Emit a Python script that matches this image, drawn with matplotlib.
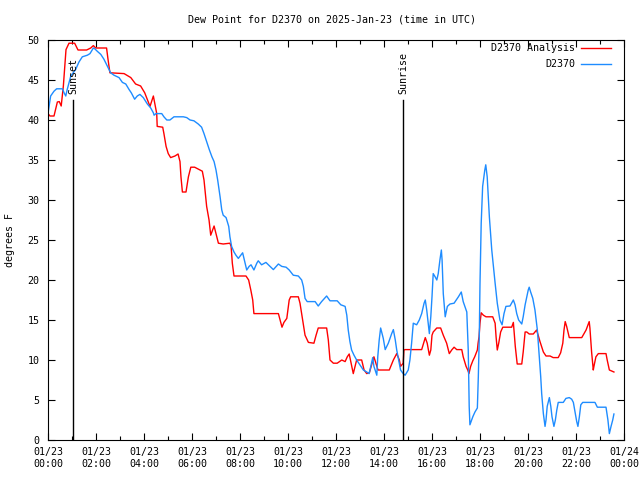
import numpy as np
import matplotlib
matplotlib.use("Agg")
from matplotlib import pyplot as plt
from matplotlib.ticker import MultipleLocator

# hours since 2025-01-23 00:00 UTC, dew point in F
analysis_t = [0.0, 0.08, 0.25, 0.39, 0.47, 0.55, 0.64, 0.75, 0.875, 1.11, 1.25, 1.61, 1.78, 1.89, 1.99,
              2.44, 2.5, 2.58, 3.17, 3.45, 3.65, 3.86, 4.03, 4.25, 4.39, 4.53, 4.55, 4.78, 4.83, 4.92,
              5.01, 5.11, 5.29, 5.42, 5.5, 5.54, 5.6, 5.75, 5.85, 5.95, 6.11, 6.33, 6.43, 6.5, 6.61,
              6.71, 6.78, 6.83, 6.92, 7.0, 7.1, 7.3, 7.58, 7.63, 7.68, 7.75, 8.25, 8.36, 8.45, 8.53,
              8.58, 9.6, 9.67, 9.75, 9.83, 9.95, 10.05, 10.11, 10.43, 10.5, 10.61, 10.71, 10.85, 11.08,
              11.17, 11.26, 11.61, 11.68, 11.75, 11.89, 12.05, 12.24, 12.38, 12.47, 12.55, 12.63, 12.72,
              12.86, 13.07, 13.17, 13.28, 13.39, 13.58, 13.75, 14.22, 14.39, 14.53, 14.64, 14.69, 14.8,
              14.83, 14.88, 15.57, 15.67, 15.72, 15.8, 15.89, 15.95, 16.0, 16.05, 16.2, 16.36, 16.47,
              16.61, 16.72, 16.82, 16.92, 17.03, 17.24, 17.3, 17.42, 17.49, 17.54, 17.61, 17.7, 17.78,
              17.89, 17.92, 17.96, 18.0, 18.05, 18.14, 18.25, 18.53, 18.63, 18.67, 18.72, 18.78, 18.86,
              18.95, 19.32, 19.39, 19.47, 19.55, 19.74, 19.8, 19.88, 19.95, 20.05, 20.22, 20.36, 20.5,
              20.64, 20.75, 20.92, 21.05, 21.26, 21.36, 21.45, 21.5, 21.55, 21.61, 21.72, 22.24, 22.42,
              22.55, 22.58, 22.65, 22.72, 22.75, 22.83, 22.93, 23.25, 23.3, 23.39, 23.58]
analysis_v = [40.8, 40.5, 40.5, 42.25, 42.3, 41.75, 44.25, 48.8, 49.6, 49.6, 48.75, 48.75, 49.0, 49.3, 49.0,
              49.0, 47.6, 45.9, 45.8, 45.3, 44.5, 44.25, 43.4, 41.7, 43.0, 40.8, 39.2, 39.1, 38.3, 36.7,
              35.8, 35.3, 35.5, 35.75, 34.8, 32.9, 31.0, 31.0, 32.9, 34.1, 34.1, 33.75, 33.6, 32.5, 29.2,
              27.5, 25.6, 26.0, 26.75, 25.8, 24.6, 24.5, 24.6, 24.2, 22.1, 20.5, 20.5, 20.0, 18.75, 17.5,
              15.8, 15.8, 15.0, 14.1, 14.7, 15.2, 17.5, 17.9, 17.9, 17.1, 15.0, 13.1, 12.2, 12.1,
              13.1, 14.0, 14.0, 12.5, 10.0, 9.6, 9.6, 10.0, 9.8, 10.4, 10.75, 9.6, 8.3,
              10.0, 10.0, 8.75, 8.3, 8.4, 10.4, 8.75, 8.75, 10.0, 10.8, 10.0, 9.2, 9.6,
              11.25, 11.3, 11.3, 12.3, 12.8, 12.1, 10.6, 11.25, 13.1, 13.5, 14.0, 14.0, 13.1,
              12.1, 10.8, 11.25, 11.6, 11.3, 11.3, 10.4, 9.2, 8.75, 8.3, 9.2, 9.9, 10.4,
              11.25, 12.1, 12.9, 14.6, 15.9, 15.6, 15.4, 15.4, 14.6, 12.9, 11.25, 12.1, 13.5,
              14.1, 14.1, 14.7, 11.7, 9.5, 9.5, 11.0, 13.5, 13.5, 13.25, 13.25, 13.75, 12.3,
              11.0, 10.5, 10.5, 10.3, 10.3, 10.9, 12.1, 13.75, 14.8, 14.2, 12.8, 12.8, 13.75,
              14.8, 14.0, 11.0, 8.75, 9.25, 10.4, 10.8, 10.8, 10.0, 8.75, 8.5]

station_t = [0.0, 0.11, 0.25, 0.36, 0.6, 0.67, 0.74, 0.8, 0.95, 1.15, 1.29, 1.43, 1.64, 1.75, 1.89, 1.95,
             2.05, 2.2, 2.33, 2.47, 2.61, 2.75, 2.96, 3.1, 3.24, 3.38, 3.47, 3.61, 3.72, 3.83, 3.97,
             4.14, 4.28, 4.39, 4.42, 4.5, 4.74, 4.83, 4.95, 5.08, 5.25, 5.64, 5.78, 5.92, 6.08, 6.26,
             6.4, 6.5, 6.61, 6.72, 6.83, 6.92, 7.0, 7.07, 7.17, 7.24, 7.3, 7.42, 7.47, 7.53, 7.58,
             7.65, 7.75, 7.83, 7.93, 8.03, 8.11, 8.18, 8.28, 8.38, 8.46, 8.58, 8.7, 8.76, 8.9, 9.08,
             9.25, 9.39, 9.6, 9.74, 9.92, 10.05, 10.22, 10.43, 10.57, 10.64, 10.71, 10.8, 11.13, 11.26,
             11.4, 11.61, 11.75, 12.05, 12.2, 12.38, 12.45, 12.51, 12.58, 12.65, 12.75, 12.86, 12.97,
             13.14, 13.28, 13.38, 13.45, 13.53, 13.58, 13.7, 13.74, 13.8, 13.86, 13.97, 14.05, 14.18,
             14.32, 14.39, 14.47, 14.53, 14.61, 14.69, 14.8, 14.88, 15.01, 15.08, 15.15, 15.22, 15.36,
             15.47, 15.57, 15.67, 15.72, 15.78, 15.89, 15.95, 16.0, 16.05, 16.13, 16.2, 16.26, 16.33,
             16.39, 16.42, 16.47, 16.55, 16.64, 16.75, 16.92, 17.1, 17.22, 17.3, 17.45, 17.51, 17.55,
             17.58, 17.7, 17.79, 17.89, 17.93, 17.97, 18.0, 18.05, 18.11, 18.2, 18.24, 18.3, 18.39,
             18.49, 18.63, 18.72, 18.83, 18.92, 19.0, 19.08, 19.25, 19.39, 19.46, 19.53, 19.61, 19.74,
             19.8, 19.88, 19.95, 20.01, 20.05, 20.11, 20.2, 20.29, 20.39, 20.47, 20.53, 20.57, 20.64,
             20.71, 20.75, 20.8, 20.89, 20.95, 21.0, 21.08, 21.14, 21.2, 21.26, 21.47, 21.58, 21.72,
             21.82, 21.89, 21.97, 22.03, 22.08, 22.14, 22.2, 22.28, 22.79, 22.89, 23.25, 23.33, 23.39,
             23.46, 23.53, 23.58]
station_v = [40.8, 43.0, 43.6, 43.9, 43.9, 43.4, 43.0, 43.8, 45.5, 46.3, 47.25, 47.9, 48.1, 48.3, 49.0, 48.9,
             48.6, 48.2, 47.6, 46.75, 45.9, 45.6, 45.3, 44.7, 44.5, 43.8, 43.4, 42.6, 43.0, 43.2, 42.8,
             42.0, 41.5, 40.9, 40.6, 40.8, 40.8, 40.4, 40.0, 40.0, 40.4, 40.4, 40.3, 40.0, 39.9, 39.5,
             39.1, 38.3, 37.3, 36.3, 35.4, 34.8, 33.75, 32.5, 30.4, 28.75, 28.1, 27.8, 27.3, 26.7, 25.4,
             24.2, 23.5, 23.1, 22.7, 23.1, 23.4, 22.5, 21.25, 21.7, 21.9, 21.25, 22.1, 22.4, 21.9, 22.2,
             21.7, 21.3, 22.0, 21.7, 21.6, 21.25, 20.6, 20.5, 20.0, 19.2, 17.7, 17.3, 17.3, 16.75,
             17.3, 18.0, 17.4, 17.4, 16.9, 16.7, 15.6, 13.75, 12.3, 11.25, 10.6, 10.0, 9.5,
             8.75, 8.5, 8.3, 9.2, 10.3, 9.2, 8.1, 10.4, 12.5, 14.0, 12.7, 11.3, 12.1,
             13.3, 13.8, 12.5, 11.25, 10.0, 8.75, 8.3, 8.1, 8.75, 10.0, 12.1, 14.6, 14.4,
             15.0, 15.8, 17.1, 17.5, 16.25, 13.3, 15.4, 17.9, 20.8, 20.4, 20.0, 20.8, 22.5,
             23.75, 22.5, 18.3, 15.4, 16.7, 17.0, 17.1, 17.9, 18.5, 17.3, 16.0, 11.25, 4.2,
             1.9, 2.9, 3.5, 4.0, 7.9, 12.9, 19.6, 27.1, 31.7, 33.75, 34.4, 32.9, 27.9,
             23.75, 19.6, 17.1, 15.0, 14.4, 15.8, 16.7, 16.75, 17.5, 16.9, 15.8, 15.0, 14.5,
             15.4, 16.9, 17.9, 18.75, 19.1, 18.5, 17.7, 16.25, 13.75, 10.4, 7.9, 5.8, 3.3,
             1.7, 2.5, 4.2, 5.3, 4.2, 2.9, 1.7, 2.5, 3.75, 4.7, 4.7, 5.2, 5.3,
             5.1, 4.7, 3.3, 2.3, 1.7, 2.9, 4.4, 4.7, 4.7, 4.1, 4.1, 2.5, 0.8,
             1.7, 2.5, 3.25]

sun_events = ["Sunset", "Sunrise"]
sun_times = [1.04, 14.79]
sun_line_top = 42.5

xtick_hours = list(range(0, 25, 2))
xtick_labels = ["01/23\n00:00", "01/23\n02:00", "01/23\n04:00", "01/23\n06:00", "01/23\n08:00",
                "01/23\n10:00", "01/23\n12:00", "01/23\n14:00", "01/23\n16:00", "01/23\n18:00",
                "01/23\n20:00", "01/23\n22:00", "01/24\n00:00"]

plt.rcParams['font.family'] = 'DejaVu Sans Mono'
fs = 7.2

fig = plt.figure(figsize=(6.4, 4.8), dpi=100)
ax = fig.add_axes([48/640, 40/480, 576/640, 400/480])

red = '#ff0000'
blue = '#1e8cff'
ax.plot(analysis_t, analysis_v, color=red, lw=1.0)
ax.plot(station_t, station_v, color=blue, lw=1.0)

for name, t in zip(sun_events, sun_times):
    ax.plot([t, t], [0, sun_line_top], color='black', lw=1.0)
    ax.text(t, sun_line_top + 0.8, name, rotation=90, ha='center', va='bottom', fontsize=fs)

ax.set_xlim(0, 24)
ax.set_ylim(0, 50)
ax.set_xticks(xtick_hours)
ax.set_xticklabels(xtick_labels)
ax.xaxis.set_minor_locator(MultipleLocator(1))
ax.set_yticks(np.arange(0, 51, 5))
ax.tick_params(which='both', direction='in', top=True, right=True, labelsize=fs)
ax.tick_params(which='major', length=5, width=0.8)
ax.tick_params(which='minor', length=3, width=0.8)
ax.tick_params(axis='x', pad=5)
ax.tick_params(axis='y', pad=6)
for s in ax.spines.values():
    s.set_linewidth(0.8)

ax.set_ylabel("degrees F", fontsize=fs, labelpad=9)
fig.text(332/640, 1 - 20/480, "Dew Point for D2370 on 2025-Jan-23 (time in UTC)", ha='center', va='center', fontsize=fs)

# legend drawn gnuplot style: right-justified text, sample line on the right
leg_items = [("D2370 Analysis", red), ("D2370", blue)]
for i, (lab, c) in enumerate(leg_items):
    yy = 0.98 - i * 0.04
    ax.text(0.915, yy, lab, transform=ax.transAxes, ha='right', va='center', fontsize=fs)
    ax.plot([0.925, 0.977], [yy, yy], transform=ax.transAxes, color=c, lw=1.0)

plt.savefig("out.png", dpi=100)
